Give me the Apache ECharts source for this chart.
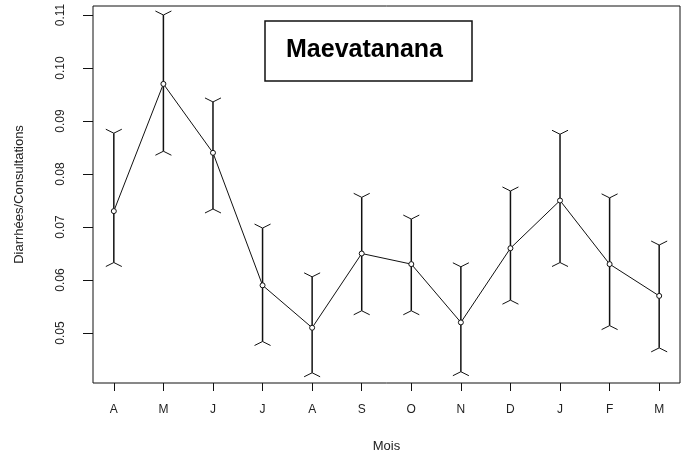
<!DOCTYPE html>
<html>
<head>
<meta charset="utf-8">
<script src="https://cdn.jsdelivr.net/npm/echarts@6/dist/echarts.min.js"></script>
<style>
  html, body { margin: 0; padding: 0; background: #fff; }
  #chart { width: 688px; height: 452px; }
</style>
</head>
<body>
<div id="chart"></div>
<script>
// mois (avril -> mars)
var months = ['A', 'M', 'J', 'J', 'A', 'S', 'O', 'N', 'D', 'J', 'F', 'M']
// ratio diarrhées / consultations
var means = [0.073, 0.097, 0.084, 0.059, 0.051, 0.065, 0.063, 0.052, 0.066, 0.075, 0.063, 0.057]
var upper = [0.0877, 0.1100, 0.0936, 0.0698, 0.0606, 0.0756, 0.0715, 0.0625, 0.0768, 0.0875, 0.0755, 0.0666]
var lower = [0.0633, 0.0843, 0.0734, 0.0484, 0.0425, 0.0542, 0.0542, 0.0427, 0.0562, 0.0633, 0.0514, 0.0472]
var yTicks = [0.05, 0.06, 0.07, 0.08, 0.09, 0.10, 0.11]

var xPos = months.map(function (m, i) { return i + 1 })
var lineData = means.map(function (v, i) { return [i + 1, v] })
var barData = means.map(function (v, i) { return [i + 1, lower[i], upper[i]] })

var myChart = echarts.init(document.getElementById('chart'))

var font = '"Liberation Sans", Arial, sans-serif'
var ink = '#111'

var option = {
  backgroundColor: '#fff',
  animation: false,
  textStyle: { fontFamily: font },
  grid: {
    left: 93,
    top: 6,
    right: 8,
    bottom: 69,
    outerBoundsMode: 'none',
    show: true,
    borderColor: ink,
    borderWidth: 1
  },
  xAxis: {
    type: 'value',
    min: 0.58,
    max: 12.42,
    splitLine: { show: false },
    axisLine: { show: false },
    axisTick: { show: true, length: 8, lineStyle: { color: ink }, customValues: xPos },
    axisLabel: {
      customValues: xPos,
      margin: 21,
      fontSize: 12,
      color: '#222',
      formatter: function (v) { return months[Math.round(v) - 1] }
    },
    name: 'Mois',
    nameLocation: 'middle',
    nameGap: 57,
    nameTextStyle: { fontSize: 13, color: '#222' }
  },
  yAxis: {
    type: 'value',
    min: 0.04057,
    max: 0.1117,
    splitLine: { show: false },
    axisLine: { show: false },
    axisTick: { show: true, length: 10, lineStyle: { color: ink }, customValues: yTicks },
    axisLabel: {
      customValues: yTicks,
      rotate: 90,
      margin: 26,
      fontSize: 12,
      color: '#222',
      formatter: function (v) { return v.toFixed(2) }
    },
    name: 'Diarrhées/Consultations',
    nameLocation: 'middle',
    nameRotate: 90,
    nameGap: 67,
    nameTextStyle: { fontSize: 13, color: '#222' }
  },
  graphic: [
    {
      type: 'rect',
      shape: { x: 265, y: 21, width: 207, height: 60 },
      style: { fill: '#fff', stroke: ink, lineWidth: 1.5 },
      z: 100
    },
    {
      type: 'text',
      x: 286,
      y: 50,
      style: {
        text: 'Maevatanana',
        font: 'bold 25px ' + font,
        fill: '#000',
        textVerticalAlign: 'middle'
      },
      z: 101
    }
  ],
  series: [
    {
      type: 'custom',
      data: barData,
      renderItem: function (params, api) {
        var x = api.value(0)
        var top = api.coord([x, api.value(2)])
        var bot = api.coord([x, api.value(1)])
        var w = 8, h = 4
        var st = { stroke: ink, lineWidth: 1.5, fill: null }
        return {
          type: 'group',
          children: [
            { type: 'line', shape: { x1: top[0], y1: top[1], x2: bot[0], y2: bot[1] }, style: st },
            { type: 'polyline', shape: { points: [[top[0] - w, top[1] - h], [top[0], top[1]], [top[0] + w, top[1] - h]] }, style: { stroke: ink, lineWidth: 1, fill: null } },
            { type: 'polyline', shape: { points: [[bot[0] - w, bot[1] + h], [bot[0], bot[1]], [bot[0] + w, bot[1] + h]] }, style: { stroke: ink, lineWidth: 1, fill: null } }
          ]
        }
      },
      z: 2
    },
    {
      type: 'line',
      data: lineData,
      symbol: 'circle',
      symbolSize: 5,
      lineStyle: { color: ink, width: 1 },
      itemStyle: { color: '#fff', borderColor: ink, borderWidth: 1 },
      z: 3
    }
  ]
}

myChart.setOption(option)
</script>
</body>
</html>
